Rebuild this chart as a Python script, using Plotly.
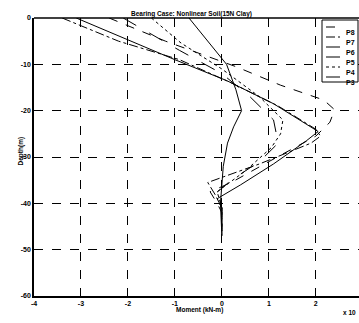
import plotly.graph_objects as go

# ---- data (moment x10^?, depth m) ----
names = ["P8", "P7", "P6", "P5", "P4", "P3"]
dashes = ["dash", "dashdot", "solid", "longdash", "dot", "solid"]

p8_m = [-2.4, -1.2, 0.3, 1.25, 2.17, 2.4, 2.3, 2.0, 1.0, 0.2, -0.25, -0.1, 0.0, 0.0]
p8_d = [0, -5, -10.5, -14.5, -17.7, -19.8, -22.5, -25.5, -31, -35.5, -37.5, -40, -42, -46]
p7_m = [-3.4, -2.2, -0.9, 0.2, 1.2, 2.0, 2.1, 1.9, 0.8, -0.3, -0.15, 0.0, 0.0]
p7_d = [0, -5, -9, -14, -19, -24, -25.5, -27, -31.5, -35.5, -38, -41, -46]
p6_m = [-3.1, -1.0, 0.1, 1.1, 2.05, 1.8, 1.1, 0.4, -0.1, 0.0, 0.0]
p6_d = [0, -9, -13.5, -18.5, -24.5, -26.5, -31.5, -36, -39, -41, -47]
p5_m = [-2.1, -0.9, 0.0, 0.6, 1.1, 1.2, 0.8, 0.2, -0.15, 0.0, 0.0]
p5_d = [0, -7, -12, -17, -22, -27, -31, -35, -38, -41, -46]
p4_m = [-1.5, -0.87, 0.0, 0.8, 1.3, 1.25, 1.05, 0.5, -0.1, 0.0, 0.0]
p4_d = [0, -5.4, -11, -17, -22, -25, -28, -33, -37.5, -41, -46]
p3_m = [-0.7, -0.3, 0.1, 0.3, 0.42, 0.25, 0.12, 0.03, 0.0, -0.03, 0.0]
p3_d = [0, -5, -10, -15.5, -20, -23.5, -27, -32, -36, -40, -47]

series_m = [p8_m, p7_m, p6_m, p5_m, p4_m, p3_m]
series_d = [p8_d, p7_d, p6_d, p5_d, p4_d, p3_d]

x_ticks = [-4, -3, -2, -1, 0, 1, 2]
y_ticks = [0, -10, -20, -30, -40, -50, -60]

title = "Bearing Case: Nonlinear Soil(15N Clay)"
x_title = "Moment (kN-m)"
y_title = "Depth(m)"

FAM = "Liberation Sans, Arial"

fig = go.Figure()
for n, dsh, m, d in zip(names, dashes, series_m, series_d):
    fig.add_trace(go.Scatter(x=m, y=d, mode="lines", name=n,
                             line=dict(color="black", width=1, dash=dsh),
                             showlegend=False))

fig.update_layout(
    width=359, height=323,
    margin=dict(l=34, r=0, t=18, b=27),
    paper_bgcolor="white", plot_bgcolor="white",
    font=dict(family=FAM, size=7, color="black"),
    showlegend=False,
    xaxis=dict(range=[-4, 2.92], tickvals=x_ticks, ticktext=["<b>%d</b>" % v for v in x_ticks],
               showgrid=True, gridcolor="black", gridwidth=1, griddash="dash",
               showline=True, linecolor="black", linewidth=1.5, mirror=False,
               ticks="inside", ticklen=3, tickcolor="black", zeroline=False,
               tickfont=dict(size=7, family=FAM)),
    yaxis=dict(range=[-60, 0], tickvals=y_ticks, ticktext=["<b>%d</b>" % v for v in y_ticks],
               showgrid=True, gridcolor="black", gridwidth=1, griddash="dash",
               showline=True, linecolor="black", linewidth=1.5, mirror=False,
               ticks="inside", ticklen=3, tickcolor="black", zeroline=False,
               tickfont=dict(size=7, family=FAM)),
)

# top border line (box top)
fig.add_shape(type="line", xref="paper", yref="paper", x0=0, x1=1, y0=1, y1=1,
              line=dict(color="black", width=1.5))

# titles as annotations
fig.add_annotation(text="<b>" + title + "</b>", xref="paper", yref="paper",
                   x=0.485, y=1.0, yshift=10, showarrow=False,
                   font=dict(size=6.5, family=FAM))
fig.add_annotation(text="<b>" + x_title + "</b>", xref="paper", yref="paper",
                   x=0.51, y=0, yshift=-20, showarrow=False,
                   font=dict(size=6.5, family=FAM))
fig.add_annotation(text="<b>x 10</b>", xref="paper", yref="paper",
                   x=1.0, y=0, xanchor="right", yshift=-22, xshift=-1, showarrow=False,
                   font=dict(size=6.5, family=FAM))
fig.add_annotation(text="<b>" + y_title + "</b>", xref="paper", yref="paper",
                   x=0, y=0.52, xshift=-19, textangle=-90, showarrow=False,
                   font=dict(size=6.5, family=FAM))

# manual legend box
lx0, lx1 = 322, 358
ly0, ly1 = 20, 82
pl, pr, pt, pb = 34, 359, 18, 296
def px2paper_x(px):
    return (px - pl) / (pr - pl)
def py2paper_y(py):
    return (pb - py) / (pb - pt)

fig.add_shape(type="rect", xref="paper", yref="paper",
              x0=px2paper_x(lx0), x1=px2paper_x(lx1), y0=py2paper_y(ly1), y1=py2paper_y(ly0),
              line=dict(color="black", width=1), fillcolor="white", layer="above")
for i, (n, dsh) in enumerate(zip(names, dashes)):
    yy = 27 + i * 10
    fig.add_shape(type="line", xref="paper", yref="paper",
                  x0=px2paper_x(326), x1=px2paper_x(340), y0=py2paper_y(yy), y1=py2paper_y(yy),
                  line=dict(color="black", width=1, dash=dsh), layer="above")
    fig.add_annotation(text="<b>" + n + "</b>", xref="paper", yref="paper",
                       x=px2paper_x(344), y=py2paper_y(yy), xanchor="left", showarrow=False,
                       font=dict(size=7, family=FAM))

fig.write_html("out.html", config={"displayModeBar": False},
               post_script="document.body.style.margin='0px';")
